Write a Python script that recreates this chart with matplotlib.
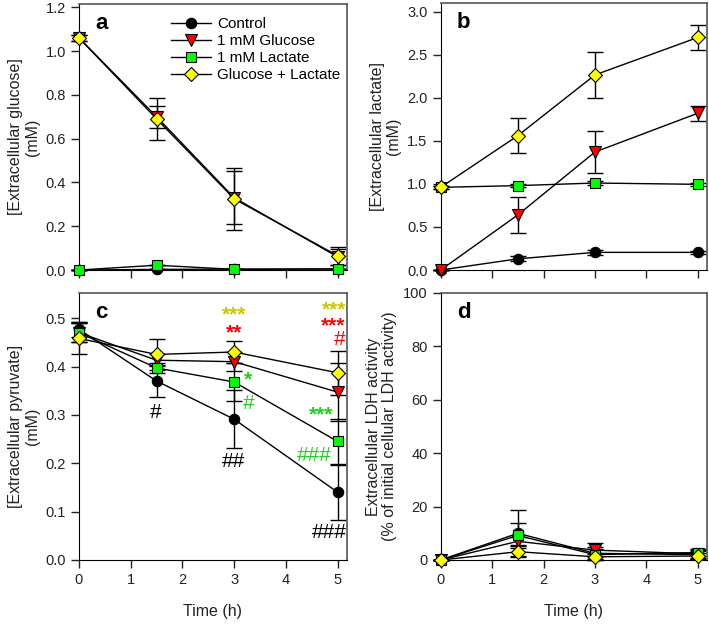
import matplotlib.pyplot as plt
from matplotlib.transforms import offset_copy

plt.rcParams['font.family'] = ['Liberation Sans', 'DejaVu Sans']

# tiempos de muestreo (h)
time = [0, 1.5, 3, 5]

series = ['Control', '1 mM Glucose', '1 mM Lactate', 'Glucose + Lactate']
markers = ['o', 'v', 's', 'D']
face_colors = ['black', '#ff0000', '#00ff00', '#ffff00']
marker_sizes = [7.5, 8, 7.2, 7.5]

# a: glucosa extracelular (mM)
glc_ctrl = [0.0, 0.003, 0.004, 0.005]
glc_glc = [1.06, 0.70, 0.33, 0.06]
glc_lac = [0.0, 0.022, 0.003, 0.005]
glc_mix = [1.06, 0.69, 0.325, 0.065]
glc_ctrl_err = [0.0, 0.0, 0.0, 0.0]
glc_glc_err = [0.015, 0.05, 0.12, 0.035]
glc_lac_err = [0.0, 0.0, 0.0, 0.0]
glc_mix_err = [0.015, 0.095, 0.14, 0.04]

# b: lactato extracelular (mM)
lac_ctrl = [0.0, 0.13, 0.205, 0.205]
lac_glc = [0.0, 0.64, 1.37, 1.82]
lac_lac = [0.96, 0.98, 1.01, 0.995]
lac_mix = [0.96, 1.56, 2.265, 2.70]
lac_ctrl_err = [0.0, 0.03, 0.03, 0.02]
lac_glc_err = [0.0, 0.21, 0.245, 0.09]
lac_lac_err = [0.02, 0.02, 0.02, 0.02]
lac_mix_err = [0.02, 0.2, 0.27, 0.15]

# c: piruvato extracelular (mM)
pyr_ctrl = [0.477, 0.370, 0.291, 0.140]
pyr_glc = [0.470, 0.413, 0.410, 0.347]
pyr_lac = [0.470, 0.397, 0.368, 0.245]
pyr_mix = [0.458, 0.425, 0.430, 0.387]
pyr_ctrl_err = [0.015, 0.033, 0.06, 0.057]
pyr_glc_err = [0.02, 0.012, 0.02, 0.06]
pyr_lac_err = [0.02, 0.01, 0.04, 0.046]
pyr_mix_err = [0.033, 0.032, 0.022, 0.046]

# d: LDH extracelular (% del LDH celular inicial)
ldh_ctrl = [0.0, 10.0, 2.5, 2.0]
ldh_glc = [0.0, 7.0, 3.7, 2.3]
ldh_lac = [0.0, 9.2, 2.0, 2.8]
ldh_mix = [0.0, 3.1, 1.2, 1.5]
ldh_ctrl_err = [0.0, 8.6, 2.5, 1.5]
ldh_glc_err = [0.0, 1.5, 2.6, 1.5]
ldh_lac_err = [0.0, 4.6, 2.0, 1.2]
ldh_mix_err = [0.0, 2.0, 1.0, 1.0]

# anotaciones estadísticas del panel c: (x, y del centro visual, texto, color)
olive = '#c8c800'
red = '#ff0000'
green = '#22cc22'
c_notes = [
    (2.99, 0.511, '***', olive),
    (2.99, 0.475, '**', red),
    (3.27, 0.377, '*', green),
    (3.28, 0.327, '#', green),
    (2.99, 0.207, '##', 'black'),
    (1.49, 0.310, '#', 'black'),
    (4.93, 0.522, '***', olive),
    (4.92, 0.489, '***', red),
    (5.03, 0.460, '#', red),
    (4.67, 0.304, '***', green),
    (4.54, 0.220, '###', green),
    (4.83, 0.062, '###', 'black'),
]

panels = [
    ('a', [glc_ctrl, glc_glc, glc_lac, glc_mix], [glc_ctrl_err, glc_glc_err, glc_lac_err, glc_mix_err],
     (0, 1.215), [0, 0.2, 0.4, 0.6, 0.8, 1.0, 1.2], '{:.1f}', '[Extracellular glucose]\n(mM)'),
    ('b', [lac_ctrl, lac_glc, lac_lac, lac_mix], [lac_ctrl_err, lac_glc_err, lac_lac_err, lac_mix_err],
     (0, 3.1), [0, 0.5, 1.0, 1.5, 2.0, 2.5, 3.0], '{:.1f}', '[Extracellular lactate]\n(mM)'),
    ('c', [pyr_ctrl, pyr_glc, pyr_lac, pyr_mix], [pyr_ctrl_err, pyr_glc_err, pyr_lac_err, pyr_mix_err],
     (0, 0.552), [0, 0.1, 0.2, 0.3, 0.4, 0.5], '{:.1f}', '[Extracellular pyruvate]\n(mM)'),
    ('d', [ldh_ctrl, ldh_glc, ldh_lac, ldh_mix], [ldh_ctrl_err, ldh_glc_err, ldh_lac_err, ldh_mix_err],
     (0, 100), [0, 20, 40, 60, 80, 100], '{:.0f}',
     'Extracellular LDH activity\n(% of initial cellular LDH activity)'),
]

boxes = {
    'a': [0.1114, 0.5707, 0.378, 0.4230],
    'b': [0.6216, 0.5707, 0.3756, 0.4245],
    'c': [0.1114, 0.1097, 0.378, 0.4245],
    'd': [0.6216, 0.1097, 0.3756, 0.4245],
}

fig = plt.figure(figsize=(7.09, 6.29), dpi=100)

for letter, ys, errs, ylim, yticks, fmt, ylabel in panels:
    ax = fig.add_axes(boxes[letter])
    for i in range(4):
        ax.errorbar(time, ys[i], yerr=errs[i], fmt='none', ecolor='black',
                    elinewidth=1, capsize=6, capthick=1, zorder=2 + i * 0.1, clip_on=False)
        ax.plot(time, ys[i], color='black', lw=1, marker=markers[i], ms=marker_sizes[i],
                mfc=face_colors[i], mec='black', mew=0.8, label=series[i],
                zorder=3 + i * 0.1, clip_on=False)

    ax.set_xlim(0, 5.18)
    ax.set_ylim(*ylim)
    ax.set_xticks([0, 1, 2, 3, 4, 5])
    ax.set_yticks(yticks)
    ax.set_yticklabels([fmt.format(t) for t in yticks])
    ax.tick_params(direction='out', length=6, width=1, labelsize=10.5, colors='#222222')
    ax.spines['top'].set_color('#555555')
    ax.spines['right'].set_color('#555555')
    ax.spines['top'].set_linewidth(1.2)
    ax.spines['right'].set_linewidth(1.2)

    ax.set_ylabel(ylabel, fontsize=11.5, color='#222222', linespacing=1.15)
    if letter in ('a', 'b'):
        ax.set_xticklabels([])
    else:
        ax.set_xlabel('Time (h)', fontsize=11.5, color='#222222', labelpad=12)

    ax.text(0.06, 0.965, letter, transform=ax.transAxes, fontsize=16, fontweight='bold',
            va='top', ha='left')

    if letter == 'a':
        ax.legend(loc='upper right', frameon=False, fontsize=11, handlelength=2.6,
                  handletextpad=0.4, labelspacing=0.2, borderaxespad=0.2,
                  bbox_to_anchor=(1.01, 0.985))
    if letter == 'c':
        # se baja la línea base para que el centro visual del glifo quede en y
        for x, y, txt, col in c_notes:
            if '*' in txt:
                size, weight, shift = 15, 'bold', -0.38 * 15
            else:
                size, weight, shift = 15, 'normal', -0.36 * 15
            tr = offset_copy(ax.transData, fig=fig, y=shift, units='points')
            ax.text(x, y, txt, color=col, fontsize=size, fontweight=weight,
                    ha='center', va='baseline', transform=tr, zorder=5)

fig.align_ylabels()
fig.savefig('out.png', dpi=100)
